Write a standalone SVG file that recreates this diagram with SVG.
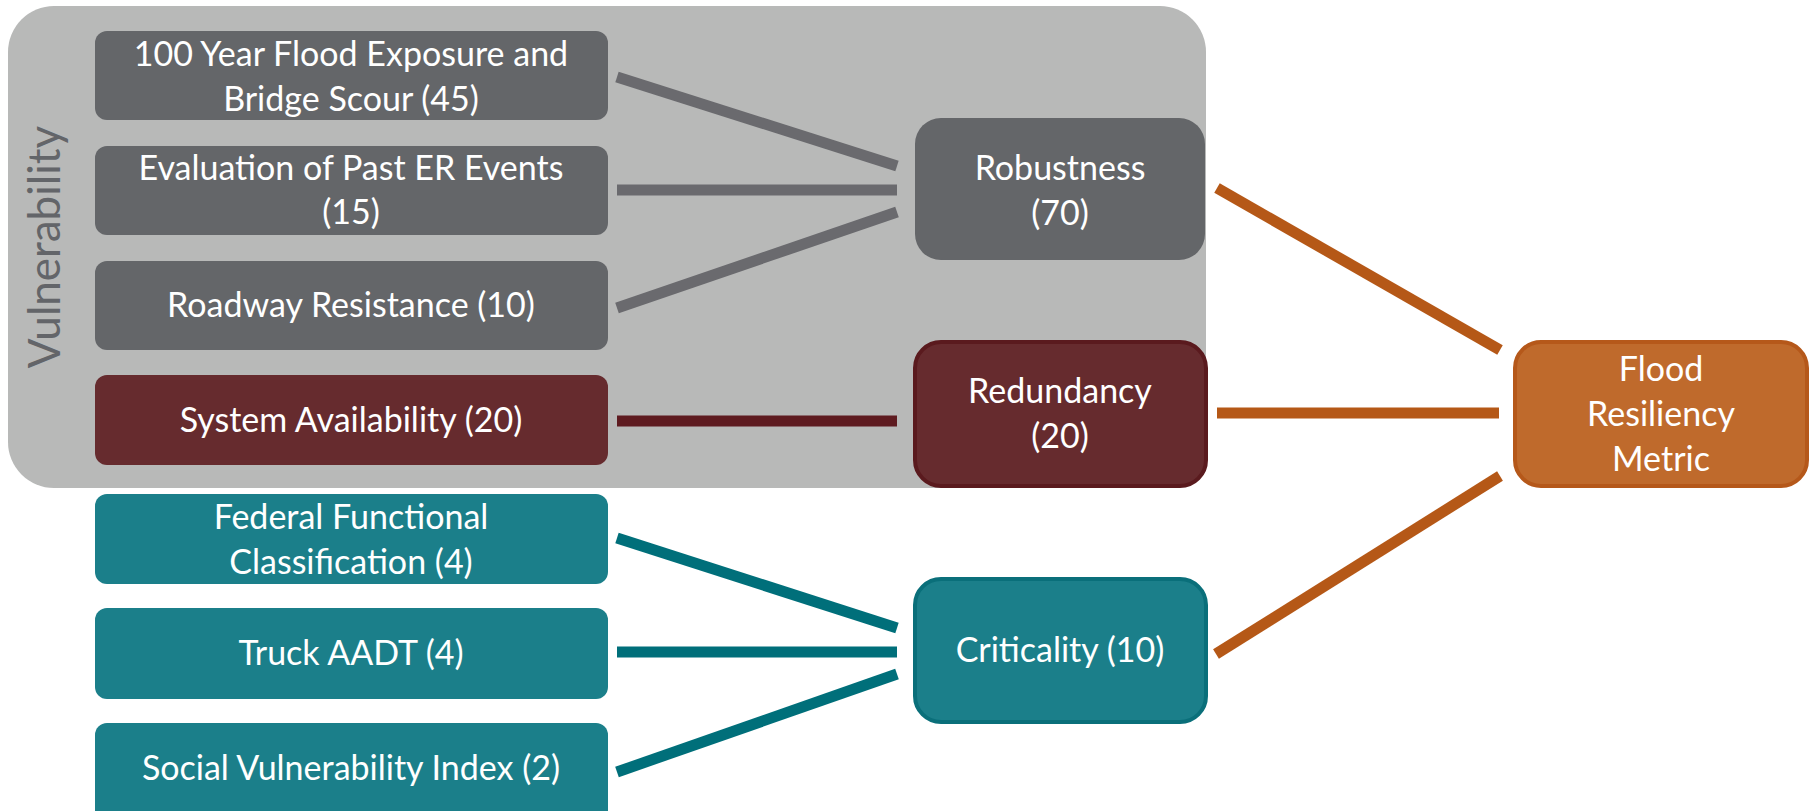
<svg xmlns="http://www.w3.org/2000/svg" width="1812" height="811" viewBox="0 0 1812 811">
<style>
.t{font-family:Lato,"Open Sans","Liberation Sans",sans-serif;font-size:34px;fill:#ffffff;text-anchor:middle}
.gray{fill:#646669}
.red{fill:#662b2e}
.teal{fill:#1b7f8a}
.c{fill:none;stroke-width:11;stroke-linecap:butt}
.cg{stroke:#6a6a6e}
.cr{stroke:#5e1b20}
.ct{stroke:#006f7a}
.co{stroke:#b55817}
</style>
<rect width="1812" height="811" fill="#ffffff"/>
<g id="vulnerability-group">
<rect x="8" y="6" width="1198" height="482" rx="46" fill="#b8b9b8"/>
<text transform="translate(60,247) rotate(-90)" style="font-family:Lato,'Open Sans','Liberation Sans',sans-serif;font-size:44px;fill:#636569;text-anchor:middle">Vulnerability</text>
</g>
<g id="connectors">
<line class="c cg" x1="617" y1="77" x2="897" y2="166"/>
<line class="c cg" x1="617" y1="190" x2="897" y2="190"/>
<line class="c cg" x1="617" y1="308" x2="897" y2="212"/>
<line class="c cr" x1="617" y1="421" x2="897" y2="421"/>
<line class="c ct" x1="617" y1="538" x2="897" y2="628"/>
<line class="c ct" x1="617" y1="652" x2="897" y2="652"/>
<line class="c ct" x1="617" y1="772" x2="897" y2="674"/>
<line class="c co" x1="1217" y1="188" x2="1500" y2="350"/>
<line class="c co" x1="1217" y1="413" x2="1499" y2="413"/>
<line class="c co" x1="1500" y1="476" x2="1216" y2="654"/>
</g>
<g id="n-flood-exposure">
<rect class="gray" x="95" y="31" width="513" height="89" rx="12"/>
<text class="t" x="351" y="66">100 Year Flood Exposure and</text>
<text class="t" x="351" y="111">Bridge Scour (45)</text>
</g>
<g id="n-past-er">
<rect class="gray" x="95" y="146" width="513" height="89" rx="12"/>
<text class="t" x="351" y="180">Evaluation of Past ER Events</text>
<text class="t" x="351" y="224">(15)</text>
</g>
<g id="n-roadway">
<rect class="gray" x="95" y="261" width="513" height="89" rx="12"/>
<text class="t" x="351" y="317">Roadway Resistance (10)</text>
</g>
<g id="n-system">
<rect class="red" x="95" y="375" width="513" height="90" rx="12"/>
<text class="t" x="351" y="432">System Availability (20)</text>
</g>
<g id="n-federal">
<rect class="teal" x="95" y="494" width="513" height="90" rx="12"/>
<text class="t" x="351" y="529">Federal Functional</text>
<text class="t" x="351" y="574">Classification (4)</text>
</g>
<g id="n-truck">
<rect class="teal" x="95" y="608" width="513" height="91" rx="12"/>
<text class="t" x="351" y="665">Truck AADT (4)</text>
</g>
<g id="n-social">
<rect class="teal" x="95" y="723" width="513" height="110" rx="12"/>
<text class="t" x="351" y="780">Social Vulnerability Index (2)</text>
</g>
<g id="n-robustness">
<rect class="gray" x="915" y="118" width="290" height="142" rx="26"/>
<text class="t" x="1060" y="180">Robustness</text>
<text class="t" x="1060" y="225">(70)</text>
</g>
<g id="n-redundancy">
<rect x="915" y="342" width="291" height="144" rx="26" fill="#662b2e" stroke="#5a1a1e" stroke-width="4"/>
<text class="t" x="1060" y="403">Redundancy</text>
<text class="t" x="1060" y="448">(20)</text>
</g>
<g id="n-criticality">
<rect x="915" y="579" width="291" height="143" rx="26" fill="#1b7f8a" stroke="#0a6f7a" stroke-width="4"/>
<text class="t" x="1060" y="662">Criticality (10)</text>
</g>
<g id="n-flood-metric">
<rect x="1515" y="342" width="292" height="144" rx="26" fill="#bf6a2c" stroke="#b5581a" stroke-width="4"/>
<text class="t" x="1661" y="381">Flood</text>
<text class="t" x="1661" y="426">Resiliency</text>
<text class="t" x="1661" y="471">Metric</text>
</g>
</svg>
